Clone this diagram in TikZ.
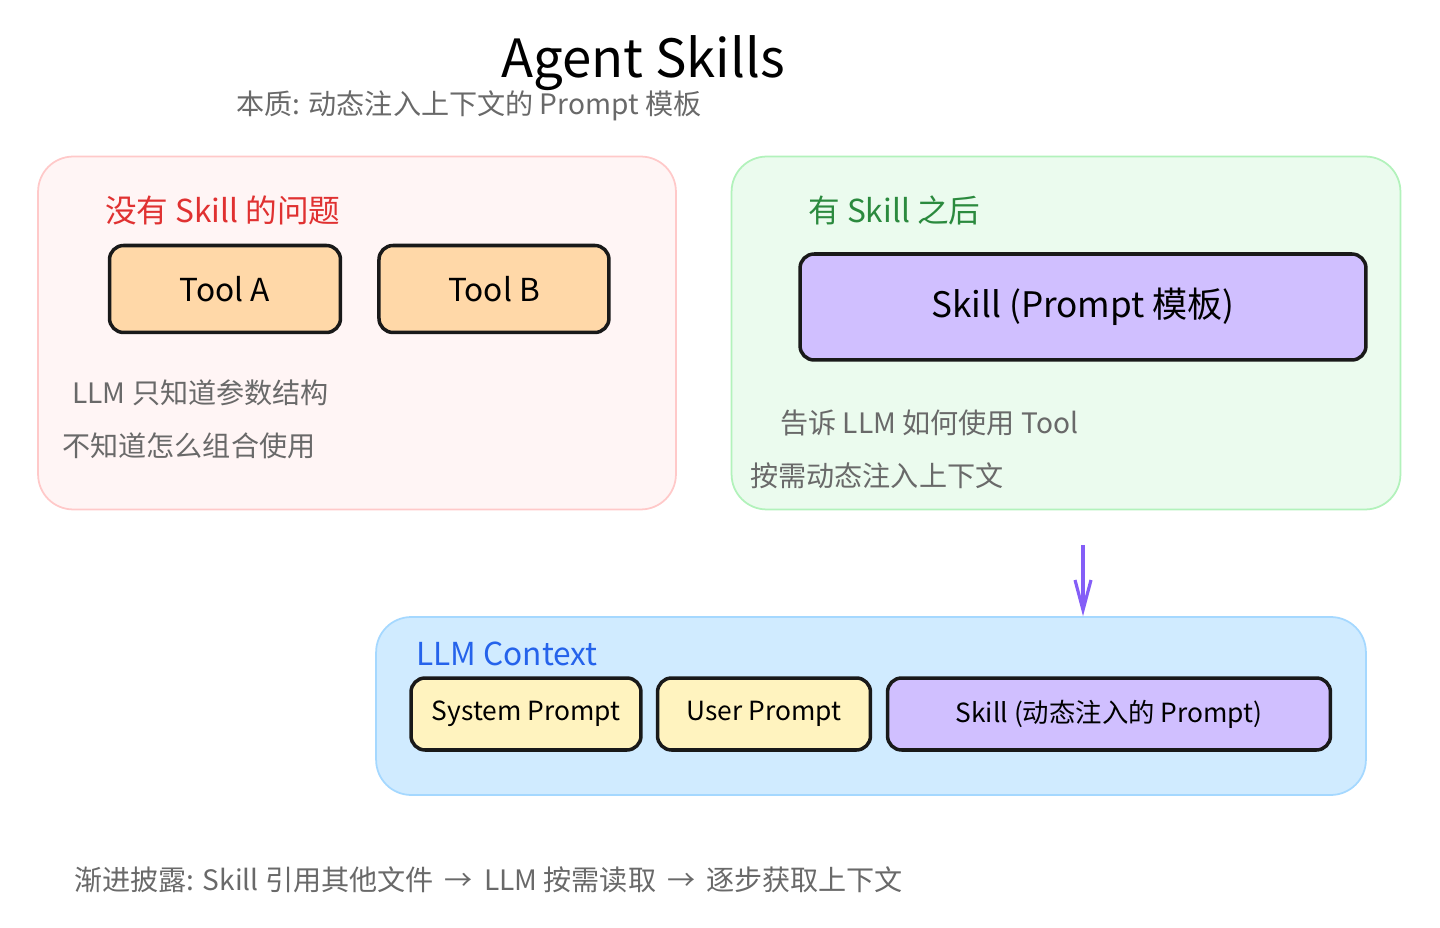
\documentclass[tikz,border=0pt]{standalone}
\usepackage{fontspec}
\setmainfont{Noto Sans CJK SC}
\usepackage{tikz}
\usetikzlibrary{arrows.meta,positioning,calc}
\definecolor{rougeC}{RGB}{224,49,49}
\definecolor{vertC}{RGB}{43,138,62}
\definecolor{bleuC}{RGB}{37,99,235}
\definecolor{grisC}{RGB}{105,105,105}
\definecolor{violetC}{RGB}{132,94,247}
\definecolor{orangeF}{RGB}{255,216,168}
\definecolor{jauneF}{RGB}{255,243,191}
\definecolor{lilasF}{RGB}{208,191,255}
\definecolor{roseF}{RGB}{255,245,245}
\definecolor{roseB}{RGB}{255,201,201}
\definecolor{vertF}{RGB}{235,251,238}
\definecolor{vertB}{RGB}{178,242,187}
\definecolor{bleuF}{RGB}{208,235,255}
\definecolor{bleuB}{RGB}{165,216,255}
\tikzset{
  zone/.style={rectangle, rounded corners=20pt, draw=#1B, fill=#1F, line width=1pt, inner sep=0pt},
  carte/.style={rectangle, rounded corners=8pt, draw=black!90, line width=2pt, fill=#1,
                align=center, inner sep=0pt},
  titreZ/.style={anchor=west, inner sep=0pt, text=#1, font=\fontsize{18}{21}\selectfont},
  note/.style={anchor=west, inner sep=0pt, text=grisC, font=\fontsize{16}{19}\selectfont},
  arr/.style={-{Straight Barb[length=6mm, width=3.2mm]}, line width=1.8pt, draw=violetC},
}
\begin{document}
\begin{tikzpicture}[x=0.02cm, y=-0.02cm, node distance=3mm]
  \useasboundingbox (0,0) rectangle (1440,928);
  % titre
  \node[font=\fontsize{30}{36}\selectfont] (titre) at (643,63) {Agent Skills};
  \node[note] (sous) at (236,106) {本质: 动态注入上下文的 Prompt 模板};
  % sans skill
  \node[zone=rose, minimum width=12.76cm, minimum height=7.06cm] (sans) at (357,333) {};
  \node[titreZ=rougeC] (sansT) at (105,210) {没有 Skill 的问题};
  \node[carte=orangeF, minimum width=4.62cm, minimum height=1.74cm, font=\fontsize{18}{22}\selectfont] (toolA) at (225,289) {Tool A};
  \node[carte=orangeF, minimum width=4.6cm, minimum height=1.74cm, font=\fontsize{18}{22}\selectfont, right=0.7cm of toolA] (toolB) {Tool B};
  \node[note] (n1) at (72,393) {LLM 只知道参数结构};
  \node[note] (n2) at (62,446) {不知道怎么组合使用};
  % avec skill
  \node[zone=vert, minimum width=13.38cm, minimum height=7.06cm] (avec) at (1066,333) {};
  \node[titreZ=vertC] (avecT) at (808,210) {有 Skill 之后};
  \node[carte=lilasF, minimum width=11.32cm, minimum height=2.12cm, font=\fontsize{20}{24}\selectfont] (skill) at (1083,307) {Skill (Prompt 模板)};
  \node[note] (n3) at (780,423) {告诉 LLM 如何使用 Tool};
  \node[note] (n4) at (750,476) {按需动态注入上下文};
  % contexte
  \node[zone=bleu, minimum width=19.8cm, minimum height=3.56cm] (ctx) at (871,706) {};
  \node[titreZ=bleuC] (ctxT) at (416,654) {LLM Context};
  \node[carte=jauneF, minimum width=4.6cm, minimum height=1.44cm, font=\fontsize{15}{18}\selectfont] (sys) at (526,714) {System Prompt};
  \node[carte=jauneF, minimum width=4.26cm, minimum height=1.44cm, font=\fontsize{15}{18}\selectfont] (usr) at (764,714) {User Prompt};
  \node[carte=lilasF, minimum width=8.86cm, minimum height=1.44cm, font=\fontsize{15}{18}\selectfont] (dyn) at (1109,714) {Skill (动态注入的 Prompt)};
  \coordinate (haut) at (1083,545);
  \draw[arr] (haut) -- (haut |- ctx.north);
  % pied
  \node[note] (pied) at (74,880) {渐进披露: Skill 引用其他文件 \,→\, LLM 按需读取 \,→\, 逐步获取上下文};
\end{tikzpicture}
\end{document}
